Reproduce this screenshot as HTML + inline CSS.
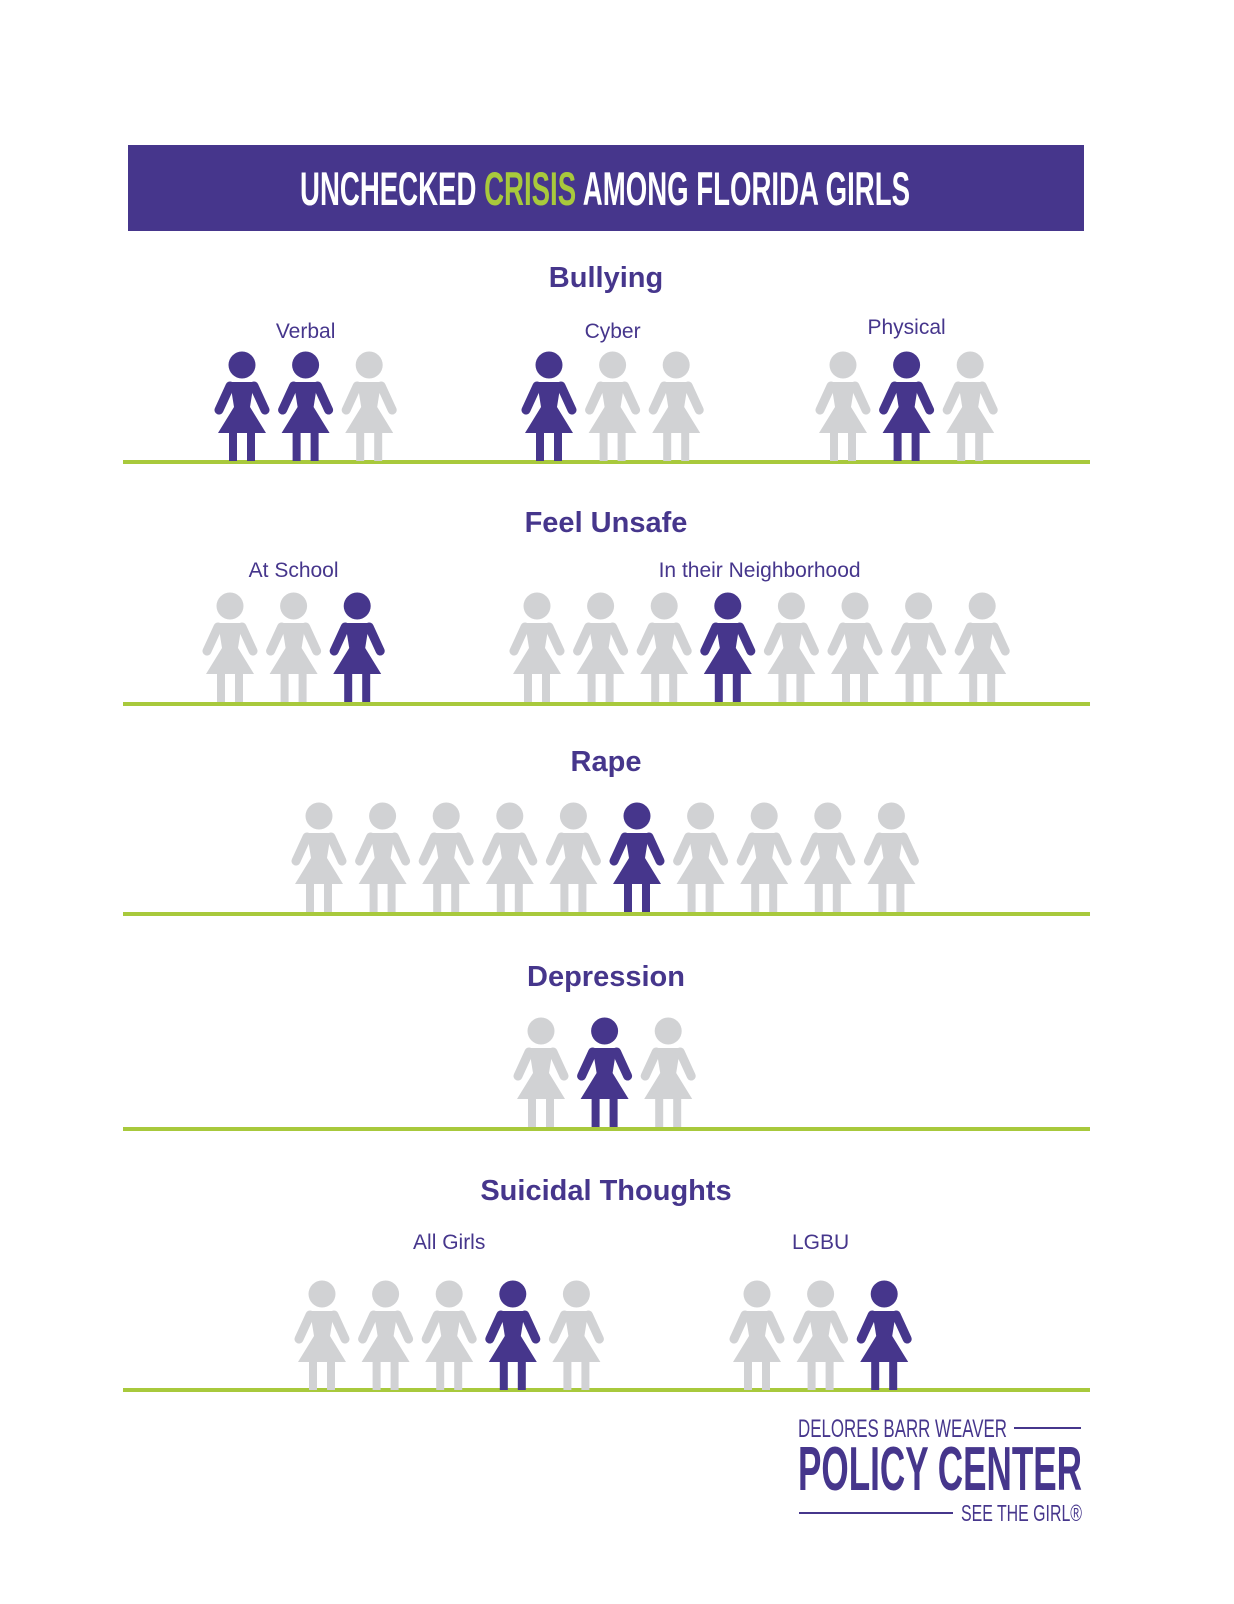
<!DOCTYPE html>
<html><head><meta charset="utf-8">
<style>
html,body{margin:0;padding:0;background:#fff;}
svg{display:block;}
.t{font-family:"Liberation Sans",sans-serif;fill:#46368c;}
</style></head>
<body>
<svg id="chart" width="1234" height="1604" viewBox="0 0 1234 1604" xmlns="http://www.w3.org/2000/svg">
<rect x="128" y="145" width="956" height="86" fill="#46368c"/>
<text x="300" y="205" textLength="610" lengthAdjust="spacingAndGlyphs" font-family="'Liberation Sans Narrow','Liberation Sans',sans-serif" font-weight="bold" font-size="47" fill="#fff">UNCHECKED <tspan fill="#a8c93c">CRISIS</tspan> AMONG FLORIDA GIRLS</text>
<g id="marks"></g>
<g>
<text x="798" y="1437" textLength="209" lengthAdjust="spacingAndGlyphs" font-family="'Liberation Sans Narrow','Liberation Sans',sans-serif" font-size="25" fill="#46368c">DELORES BARR WEAVER</text>
<line x1="1014" y1="1428" x2="1081" y2="1428" stroke="#46368c" stroke-width="2"/>
<text x="798" y="1490" textLength="284" lengthAdjust="spacingAndGlyphs" font-family="'Liberation Sans Narrow','Liberation Sans',sans-serif" font-weight="bold" font-size="62" fill="#46368c">POLICY CENTER</text>
<line x1="799" y1="1513" x2="953" y2="1513" stroke="#46368c" stroke-width="2"/>
<text x="961" y="1521" textLength="121" lengthAdjust="spacingAndGlyphs" font-family="'Liberation Sans Narrow','Liberation Sans',sans-serif" font-size="23" fill="#46368c">SEE THE GIRL®</text>
</g>
</svg>
<script>
// Data
const sections = ["Bullying","Feel Unsafe","Rape","Depression","Suicidal Thoughts"];
const groupLabels = ["Verbal","Cyber","Physical","At School","In their Neighborhood","","","All Girls","LGBU"];
const groupSection = [0,0,0,1,1,2,3,4,4];
const groupCounts = [3,3,3,3,8,10,3,5,3];
const groupHighlighted = [[0,1],[0],[1],[2],[3],[5],[1],[3],[2]];
const groupStartX = [242,549,843,230,537,319,541,322,757];
// Layout (non-data)
const sectionHeadY = [365,606,816,1031,1294];
const sectionTitleY = [287,532,771,986,1200];
const labelY = [338,338,334,577,577,0,0,1249,1249];
const lineY = [462,704,914,1129,1390];
const step = 63.6;
const NS = "http://www.w3.org/2000/svg";
const g = document.getElementById('marks');
function el(t, a){const e=document.createElementNS(NS,t);for(const k in a)e.setAttribute(k,a[k]);return e;}
function figure(cx, hy, dark){
  const c = dark ? "#46368c" : "#d1d2d4";
  const f = el('g', {fill:c, stroke:'none'});
  
  
  f.appendChild(el('circle',{cx:cx,cy:hy,r:13.5}));
  f.appendChild(el('path',{d:`M${cx-12} ${hy+17} L${cx+12} ${hy+17} L${cx+8} ${hy+42} L${cx+24} ${hy+68} L${cx-24} ${hy+68} L${cx-8} ${hy+42} Z`}));
  f.appendChild(el('line',{x1:cx-12,y1:hy+21,x2:cx-23,y2:hy+45,stroke:c,'stroke-width':9,'stroke-linecap':'round'}));
  f.appendChild(el('line',{x1:cx+12,y1:hy+21,x2:cx+23,y2:hy+45,stroke:c,'stroke-width':9,'stroke-linecap':'round'}));
  f.appendChild(el('rect',{x:cx-13,y:hy+66,width:8,height:30}));
  f.appendChild(el('rect',{x:cx+5,y:hy+66,width:8,height:30}));
  return f;
}
sections.forEach((s,i)=>{
  const t = el('text',{x:606,y:sectionTitleY[i],'text-anchor':'middle','font-size':29,'font-weight':'bold',class:'t'});
  t.textContent = s;
  
  
  g.appendChild(t);
  const ln = el('rect',{x:123,y:lineY[i]-2,width:967,height:4,fill:'#a8c93c'});
  
  
  g.appendChild(ln);
});
groupCounts.forEach((n,gi)=>{
  const s = groupSection[gi];
  const x0 = groupStartX[gi];
  const hy = sectionHeadY[s];
  for(let k=0;k<n;k++){
    g.appendChild(figure(x0 + k*step, hy, groupHighlighted[gi].indexOf(k)>=0));
  }
  if(groupLabels[gi]){
    const cx = x0 + (n-1)*step/2;
    const t = el('text',{x:cx,y:labelY[gi],'text-anchor':'middle','font-size':21,class:'t'});
    t.textContent = groupLabels[gi];
    
    
    g.appendChild(t);
  }
});
</script>
</body></html>
